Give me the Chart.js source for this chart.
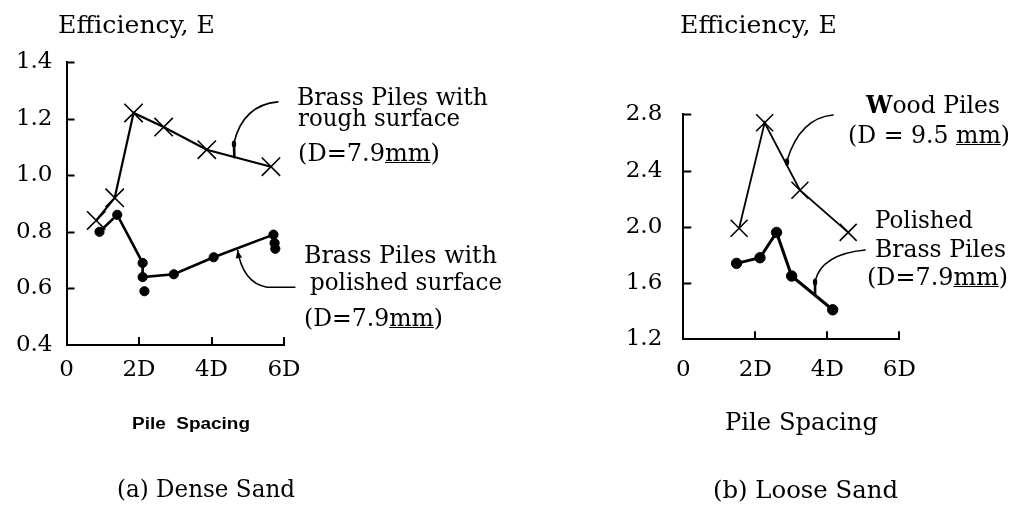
<!DOCTYPE html>
<html>
<head>
<meta charset="utf-8">
<script src="https://cdn.jsdelivr.net/npm/chart.js@4.4.0/dist/chart.umd.min.js"></script>
<style>
  html, body { margin: 0; padding: 0; background: #fff; }
  #page { position: relative; width: 1018px; height: 506px; overflow: hidden; background: #fff; }
  #page canvas { position: absolute; top: 0; }
  .lbl { position: absolute; white-space: pre; color: #000; transform-origin: 0 0; }
  .lbl u { text-decoration-thickness: 1px; text-underline-offset: 1px; }
</style>
</head>
<body>
<div id="page">
  <canvas id="dense" width="509" height="506" style="left:0"></canvas>
  <canvas id="loose" width="509" height="506" style="left:509px"></canvas>
</div>
<script>
// ---- shared axis ticks ----
const xTickValues = [0, 2, 4, 6];
const xTickLabels = ['0', '2D', '4D', '6D'];

// ---- (a) dense sand ----
const denseTicks = [0.4, 0.6, 0.8, 1.0, 1.2, 1.4];
const roughSpacing = [0.82, 1.33, 1.85, 2.68, 3.87, 5.64];
const roughEff     = [0.84, 0.92, 1.22, 1.17, 1.09, 1.03];
const polishedSpacing = [0.91, 1.40, 2.10, 2.10, 2.96, 4.06, 5.71];
const polishedEff     = [0.80, 0.86, 0.69, 0.64, 0.65, 0.71, 0.79];
const polishedExtraSpacing = [2.15, 5.74, 5.76];
const polishedExtraEff     = [0.59, 0.76, 0.74];

// ---- (b) loose sand ----
const looseTicks = [1.2, 1.6, 2.0, 2.4, 2.8];
const woodSpacing = [1.55, 2.26, 3.24, 4.58];
const woodEff     = [1.99, 2.74, 2.26, 1.96];
const brassSpacing = [1.48, 2.13, 2.59, 3.01, 4.15];
const brassEff     = [1.74, 1.78, 1.96, 1.65, 1.41];

// leader curves from the text notes to the curves, in data units
const denseLeaders = [
  { start: [5.83, 1.259], via: [4.87, 1.248], to: [4.62, 1.114], tail: [4.63, 1.064] },
  { start: [6.30, 0.604], line: [5.53, 0.604], via: [4.87, 0.619], to: [4.72, 0.735], arrow: true }
];
const looseLeaders = [
  { start: [4.16, 2.795], via: [3.24, 2.774], to: [2.88, 2.47], tail: [2.88, 2.44] },
  { start: [5.05, 1.835], via: [3.85, 1.806], to: [3.66, 1.614], tail: [3.66, 1.52] }
];

const zip = (xs, ys) => xs.map((x, i) => ({ x, y: ys[i] }));

Chart.defaults.font.family = "'DejaVu Serif', serif";
Chart.defaults.color = '#000';

// short inward tick marks on both axes
const inwardTicks = {
  id: 'inwardTicks',
  afterDraw(chart) {
    const { ctx, chartArea: a } = chart;
    const xs = chart.scales.x, ys = chart.scales.y;
    ctx.save();
    ctx.strokeStyle = '#000';
    ctx.lineWidth = 2;
    ctx.beginPath();
    ys.ticks.forEach(t => {
      if (t.value === ys.min) return;
      const py = Math.round(ys.getPixelForValue(t.value)) + 0.5;
      ctx.moveTo(a.left, py); ctx.lineTo(a.left + 8, py);
    });
    xs.ticks.forEach(t => {
      if (t.value === xs.min) return;
      const px = Math.round(xs.getPixelForValue(t.value));
      ctx.moveTo(px, a.bottom); ctx.lineTo(px, a.bottom - 8);
    });
    ctx.stroke();
    ctx.restore();
  }
};

function leaderPlugin(leaders) {
  return {
    id: 'leaders',
    afterDatasetsDraw(chart) {
      const { ctx } = chart;
      const xs = chart.scales.x, ys = chart.scales.y;
      const P = ([vx, vy]) => [xs.getPixelForValue(vx), ys.getPixelForValue(vy)];
      ctx.save();
      ctx.strokeStyle = '#000';
      ctx.fillStyle = '#000';
      ctx.lineCap = 'round';
      leaders.forEach(l => {
        const s = P(l.start), v = P(l.via), e = P(l.to);
        ctx.lineWidth = 1.6;
        ctx.beginPath();
        ctx.moveTo(s[0], s[1]);
        if (l.line) { const m = P(l.line); ctx.lineTo(m[0], m[1]); }
        ctx.quadraticCurveTo(v[0], v[1], e[0], e[1]);
        ctx.stroke();
        if (l.tail) {
          const t = P(l.tail);
          ctx.lineWidth = 2.6;
          ctx.beginPath();
          ctx.moveTo(e[0], e[1]); ctx.lineTo(t[0], t[1]);
          ctx.stroke();
          ctx.beginPath();
          ctx.ellipse(e[0], e[1] + 1, 2.2, 3.5, 0, 0, Math.PI * 2);
          ctx.fill();
        }
        if (l.arrow) {
          const ang = Math.atan2(e[1] - v[1], e[0] - v[0]);
          const len = 8, half = 3.2;
          ctx.beginPath();
          ctx.moveTo(e[0], e[1]);
          ctx.lineTo(e[0] - len * Math.cos(ang) + half * Math.sin(ang), e[1] - len * Math.sin(ang) - half * Math.cos(ang));
          ctx.lineTo(e[0] - len * Math.cos(ang) - half * Math.sin(ang), e[1] - len * Math.sin(ang) + half * Math.cos(ang));
          ctx.closePath();
          ctx.fill();
        }
      });
      ctx.restore();
    }
  };
}

function makePanel(id, cfg) {
  const tickFont = { family: "'DejaVu Serif', serif", size: 23 };
  return new Chart(document.getElementById(id), {
    type: 'scatter',
    data: { datasets: cfg.datasets },
    options: {
      responsive: false,
      animation: false,
      devicePixelRatio: 1,
      events: [],
      layout: { padding: { left: 0, top: cfg.top, right: cfg.right, bottom: 0 } },
      plugins: { legend: { display: false }, tooltip: { enabled: false } },
      scales: {
        x: {
          type: 'linear', min: 0, max: 6,
          afterBuildTicks: s => { s.ticks = xTickValues.map(v => ({ value: v })); },
          afterFit: s => { s.height = cfg.xHeight; },
          grid: { display: false, drawTicks: false },
          border: { display: true, color: '#000', width: 2 },
          ticks: {
            font: tickFont, padding: cfg.xPad, maxRotation: 0, autoSkip: false,
            callback: v => xTickLabels[xTickValues.indexOf(v)] ?? ''
          }
        },
        y: {
          type: 'linear', min: cfg.yTicks[0], max: cfg.yTicks[cfg.yTicks.length - 1],
          afterBuildTicks: s => { s.ticks = cfg.yTicks.map(v => ({ value: v })); },
          afterFit: s => { s.width = cfg.yWidth; },
          grid: { display: false, drawTicks: false },
          border: { display: true, color: '#000', width: 2 },
          ticks: { font: tickFont, padding: cfg.yPad, autoSkip: false, callback: v => Number(v).toFixed(1) }
        }
      }
    },
    plugins: [inwardTicks, leaderPlugin(cfg.leaders)]
  });
}

const crossStyle = r => ({
  showLine: true, borderColor: '#000', pointStyle: 'crossRot', pointRadius: r,
  pointBorderWidth: 1.6, pointBorderColor: '#000', pointBackgroundColor: '#000', clip: false
});
const dotStyle = (r, w) => ({
  showLine: true, borderColor: '#000', borderWidth: w, pointStyle: 'circle', pointRadius: r,
  pointBorderWidth: 1, pointBorderColor: '#000', pointBackgroundColor: '#000', clip: false
});

makePanel('dense', {
  top: 62, right: 225, yWidth: 66.5, xHeight: 161, xPad: 11, yPad: 14,
  yTicks: denseTicks,
  leaders: denseLeaders,
  datasets: [
    Object.assign(crossStyle(13), { data: zip(roughSpacing, roughEff), borderWidth: 2.2 }),
    Object.assign(dotStyle(4.6, 2.6), { data: zip(polishedSpacing, polishedEff) }),
    Object.assign(dotStyle(4.6, 0), { data: zip(polishedExtraSpacing, polishedExtraEff), showLine: false })
  ]
});

makePanel('loose', {
  top: 114.3, right: 118.7, yWidth: 174.3, xHeight: 166.7, xPad: 17, yPad: 21,
  yTicks: looseTicks,
  leaders: looseLeaders,
  datasets: [
    Object.assign(crossStyle(12), { data: zip(woodSpacing, woodEff), borderWidth: 1.8 }),
    Object.assign(dotStyle(5.2, 3), { data: zip(brassSpacing, brassEff) })
  ]
});

// text notes, titles and captions (x = left edge, b = baseline, w = drawn width)
const SERIF = "'DejaVu Serif', serif";
const SANS = "'Liberation Sans', Arial, sans-serif";
const notes = [
  { t: 'Efficiency, E', x: 58, b: 33, w: 157, s: 25 },
  { t: 'Brass Piles with', x: 297, b: 105, w: 191, s: 24 },
  { t: 'rough surface', x: 298, b: 126, w: 162, s: 24 },
  { h: '(D=7.9<u>mm</u>)', x: 298, b: 161, w: 142, s: 24 },
  { t: 'Brass Piles with', x: 304, b: 263, w: 193, s: 24 },
  { t: 'polished surface', x: 310, b: 290, w: 192, s: 24 },
  { h: '(D=7.9<u>mm</u>)', x: 304, b: 326, w: 139, s: 24 },
  { t: 'Pile  Spacing', x: 132, b: 430, w: 118, s: 16, f: SANS, bold: true },
  { t: '(a) Dense Sand', x: 117, b: 497, w: 178, s: 25 },
  { t: 'Efficiency, E', x: 680, b: 33, w: 157, s: 25 },
  { h: '<b>W</b>ood Piles', x: 866, b: 113, w: 134, s: 24 },
  { h: '(D = 9.5 <u>mm</u>)', x: 848, b: 143, w: 162, s: 24 },
  { t: 'Polished', x: 875, b: 228, w: 98, s: 24 },
  { t: 'Brass Piles', x: 875, b: 257, w: 131, s: 24 },
  { h: '(D=7.9<u>mm</u>)', x: 867, b: 285, w: 141, s: 24 },
  { t: 'Pile Spacing', x: 725, b: 430, w: 153, s: 24 },
  { t: '(b) Loose Sand', x: 713, b: 498, w: 185, s: 25 }
];

const page = document.getElementById('page');
notes.forEach(n => {
  const el = document.createElement('div');
  el.className = 'lbl';
  el.style.fontFamily = n.f || SERIF;
  el.style.fontSize = n.s + 'px';
  el.style.lineHeight = n.s + 'px';
  if (n.bold) el.style.fontWeight = 'bold';
  if (n.h) el.innerHTML = n.h; else el.textContent = n.t;
  el.style.left = n.x + 'px';
  el.style.top = (n.b - 0.846 * n.s) + 'px';
  page.appendChild(el);
  const actual = el.getBoundingClientRect().width;
  if (actual > 0) el.style.transform = 'scaleX(' + (n.w / actual).toFixed(4) + ')';
});
</script>
</body>
</html>
